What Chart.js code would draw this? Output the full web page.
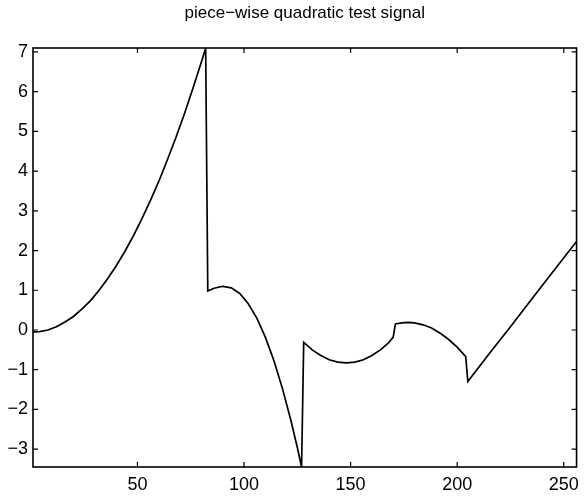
<!DOCTYPE html>
<html>
<head>
<meta charset="utf-8">
<script src="https://cdn.jsdelivr.net/npm/chart.js@4.4.0/dist/chart.umd.min.js"></script>
<style>
  html, body { margin: 0; padding: 0; background: #ffffff; }
  #wrap { width: 586px; height: 497px; }
</style>
</head>
<body>
<div id="wrap"><canvas id="c" width="586" height="497"></canvas></div>
<script>
// Sample positions (signal index) and values
const sampleX = [
  1, 2, 4, 8, 12, 16, 20, 24, 28, 32, 36, 40, 44, 48, 52, 56, 60, 64, 68, 72, 76, 80, 82,
  83, 86, 90, 94, 98, 102, 106, 110, 114, 118, 122, 125, 127,
  128, 132, 136, 140, 144, 148, 152, 156, 160, 164, 168, 170,
  171, 174, 177, 180, 184, 188, 192, 196, 200, 204,
  205, 215, 225, 235, 245, 256
];
const signalValues = [
  -0.05, -0.05, -0.04, 0.00, 0.08, 0.20, 0.34, 0.53, 0.74, 1.00, 1.29, 1.61, 1.97, 2.36, 2.79, 3.25, 3.74, 4.28, 4.84, 5.44, 6.08, 6.75, 7.10,
  0.98, 1.05, 1.10, 1.06, 0.92, 0.66, 0.30, -0.18, -0.77, -1.47, -2.28, -2.96, -3.45,
  -0.31, -0.50, -0.64, -0.75, -0.81, -0.83, -0.81, -0.75, -0.64, -0.50, -0.31, -0.18,
  0.15, 0.18, 0.19, 0.18, 0.13, 0.05, -0.08, -0.24, -0.43, -0.67,
  -1.30, -0.60, 0.08, 0.78, 1.47, 2.23
];
const xTickValues = [50, 100, 150, 200, 250];
const yTickValues = [-3, -2, -1, 0, 1, 2, 3, 4, 5, 6, 7];
const chartTitle = 'piece\u2212wise quadratic test signal';

const points = sampleX.map((x, i) => ({ x: x, y: signalValues[i] }));
const FONT = 'Liberation Sans, Arial, Helvetica, sans-serif';

const boxAndTicks = {
  id: 'boxAndTicks',
  afterDatasetsDraw(chart) {
    const { ctx, chartArea: a, scales } = chart;
    const len = 5;
    ctx.save();
    ctx.strokeStyle = '#000';
    ctx.lineWidth = 1.2;
    ctx.beginPath();
    scales.x.ticks.forEach(t => {
      const px = scales.x.getPixelForValue(t.value);
      ctx.moveTo(px, a.bottom); ctx.lineTo(px, a.bottom - len);
      ctx.moveTo(px, a.top); ctx.lineTo(px, a.top + len);
    });
    scales.y.ticks.forEach(t => {
      const py = scales.y.getPixelForValue(t.value);
      ctx.moveTo(a.left, py); ctx.lineTo(a.left + len, py);
      ctx.moveTo(a.right, py); ctx.lineTo(a.right - len, py);
    });
    ctx.stroke();
    ctx.lineWidth = 1.6;
    ctx.strokeRect(a.left, a.top, a.right - a.left, a.bottom - a.top);
    ctx.restore();
  }
};

new Chart(document.getElementById('c'), {
  type: 'line',
  data: {
    datasets: [{
      data: points,
      borderColor: '#000',
      borderWidth: 1.7,
      pointRadius: 0,
      tension: 0,
      fill: false
    }]
  },
  options: {
    responsive: false,
    animation: false,
    devicePixelRatio: 1,
    layout: { padding: { left: 0, right: 9, top: 0, bottom: 0 } },
    plugins: {
      legend: { display: false },
      tooltip: { enabled: false },
      title: {
        display: true,
        fullSize: false,
        text: chartTitle,
        color: '#000',
        font: { family: FONT, size: 17, weight: 'normal', lineHeight: 1.2 },
        padding: { top: 3, bottom: 24.6 }
      }
    },
    scales: {
      x: {
        type: 'linear',
        min: 1,
        max: 256,
        grid: { display: false, drawTicks: false },
        border: { display: false },
        afterBuildTicks(scale) { scale.ticks = xTickValues.map(v => ({ value: v })); },
        afterFit(scale) { scale.height = 30; },
        ticks: {
          color: '#000',
          padding: 7,
          maxRotation: 0,
          font: { family: FONT, size: 18 }
        }
      },
      y: {
        type: 'linear',
        min: -3.45,
        max: 7.1,
        grid: { display: false, drawTicks: false },
        border: { display: false },
        afterBuildTicks(scale) { scale.ticks = yTickValues.map(v => ({ value: v })); },
        afterFit(scale) { scale.width = 33; },
        ticks: {
          color: '#000',
          padding: 5,
          font: { family: FONT, size: 18 },
          callback: (v) => String(v).replace('-', '\u2212')
        }
      }
    }
  },
  plugins: [boxAndTicks]
});
</script>
</body>
</html>
